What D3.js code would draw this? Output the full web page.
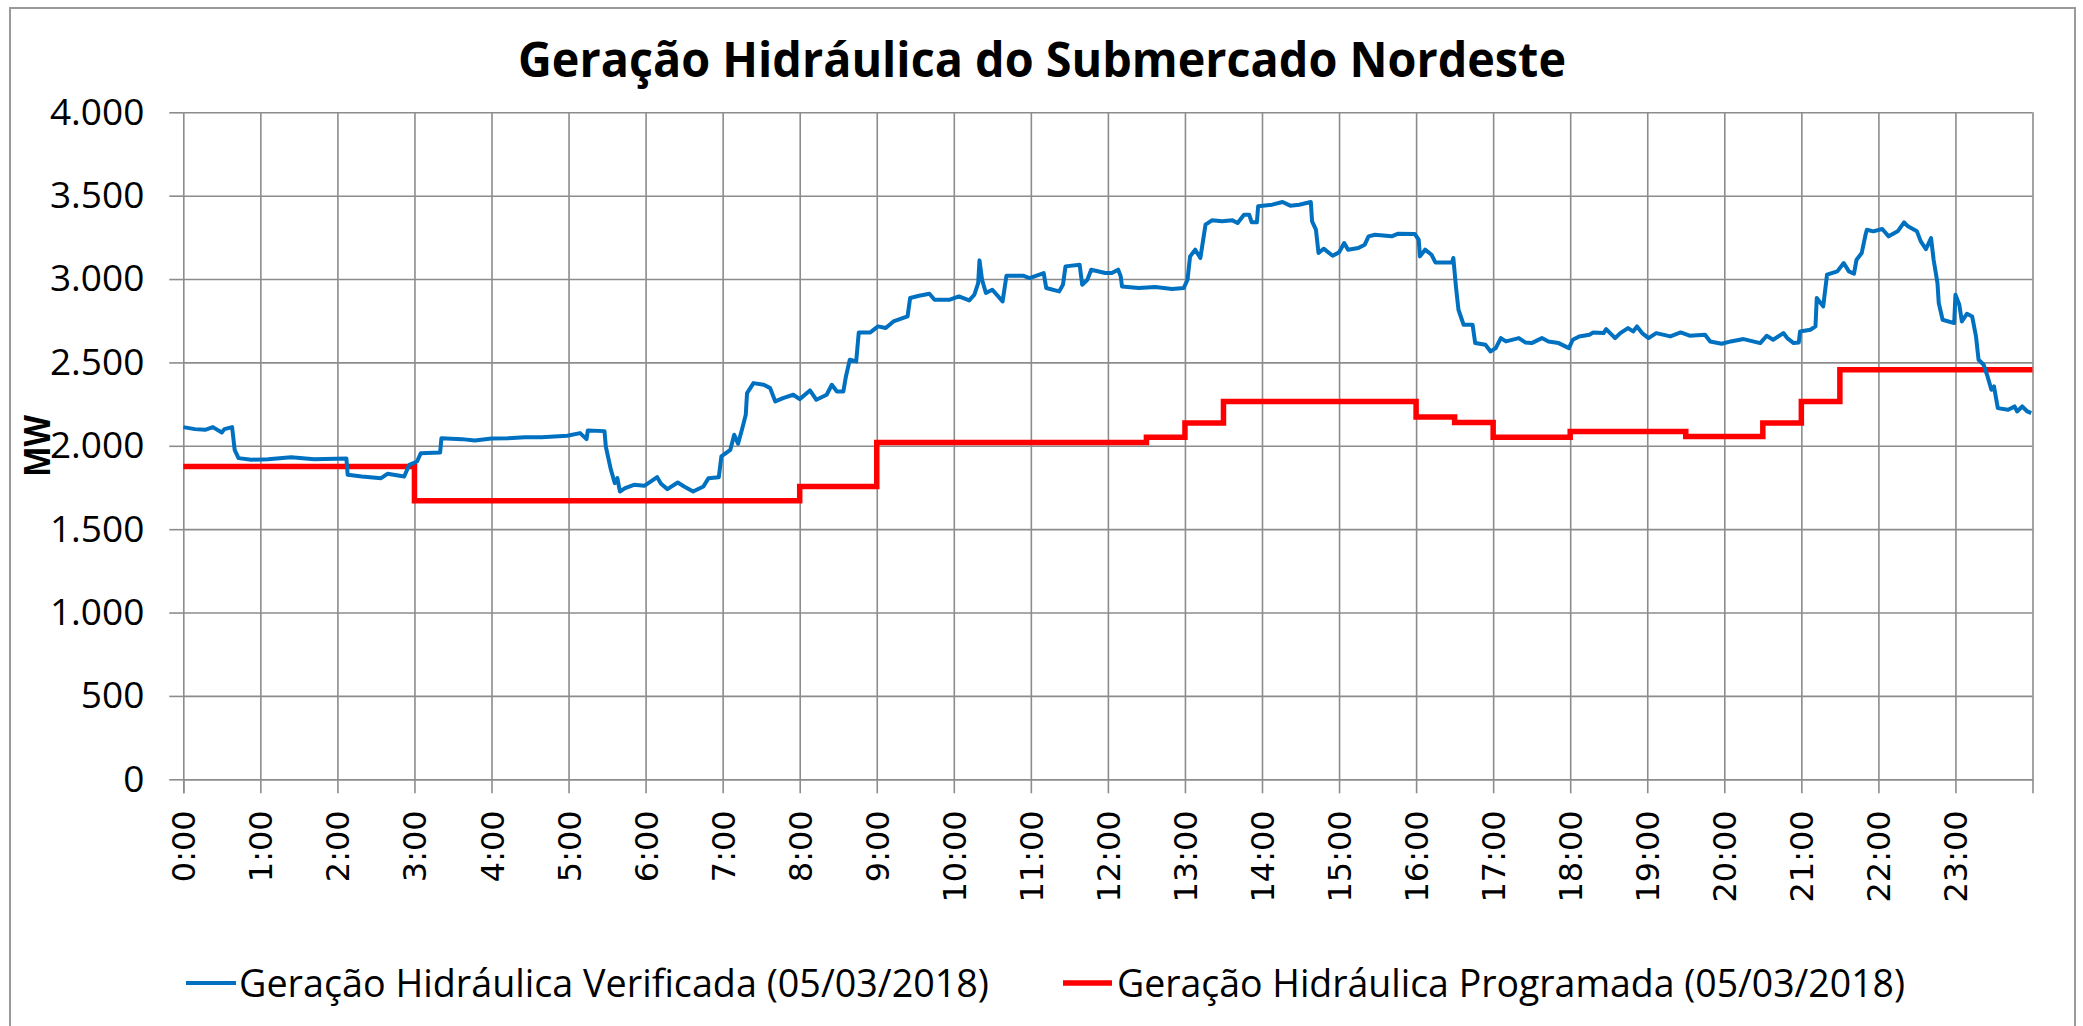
<!DOCTYPE html>
<html><head><meta charset="utf-8">
<script src="https://cdn.jsdelivr.net/npm/d3@7"></script>
<style>body{margin:0;background:#fff}</style>
</head><body><svg id="c" width="2083" height="1026"></svg>
<script>
const titulo = "Geração Hidráulica do Submercado Nordeste";
const rotuloY = "MW";
const nomesSeries = ["Geração Hidráulica Verificada (05/03/2018)", "Geração Hidráulica Programada (05/03/2018)"];
const coresSeries = ["#0070C0", "#FF0000"];
const ticksY = [0, 500, 1000, 1500, 2000, 2500, 3000, 3500, 4000];
const ticksHoras = ["0:00","1:00","2:00","3:00","4:00","5:00","6:00","7:00","8:00","9:00","10:00","11:00","12:00","13:00","14:00","15:00","16:00","17:00","18:00","19:00","20:00","21:00","22:00","23:00"];

// Geração verificada: minuto do dia e MW
const minutosVerificada = [0,9,17,23,30,32,38,40,43,53,66,84,102,127,128,139,154,159,172,176,182,185,200,201,217,227,240,253,266,279,299,309,314,315,328,329,333,336,338,340,344,351,359,369,372,377,385,390,397,405,409,417,419,426,429,432,435,438,439,444,452,457,461,467,475,480,488,493,501,505,509,514,516,519,524,526,535,541,547,553,564,566,573,581,585,597,604,612,616,619,620,622,625,630,638,641,654,659,670,672,682,685,687,698,700,704,707,718,723,728,730,731,744,757,770,779,782,784,788,792,794,796,801,809,817,821,826,830,832,836,837,848,856,862,869,878,879,882,884,888,895,900,904,907,915,920,923,928,941,946,959,962,963,967,972,975,988,989,991,993,997,1004,1006,1014,1018,1022,1026,1030,1040,1045,1050,1058,1063,1071,1079,1082,1087,1095,1098,1106,1108,1115,1119,1125,1129,1132,1136,1141,1147,1158,1166,1173,1185,1189,1198,1205,1215,1228,1233,1238,1246,1249,1254,1258,1259,1267,1271,1272,1277,1280,1288,1293,1297,1301,1303,1307,1310,1311,1316,1323,1328,1335,1340,1343,1350,1353,1357,1361,1363,1366,1367,1370,1379,1380,1383,1385,1389,1393,1396,1398,1402,1405,1408,1410,1413,1421,1426,1428,1432,1436,1439];
const valoresVerificada = [2112,2100,2096,2112,2080,2100,2112,1976,1926,1916,1920,1932,1920,1924,1826,1816,1806,1832,1816,1886,1906,1956,1960,2046,2040,2032,2044,2046,2052,2052,2060,2076,2040,2092,2088,1996,1856,1776,1806,1726,1746,1766,1760,1812,1772,1740,1780,1756,1726,1756,1806,1812,1936,1976,2066,2012,2096,2186,2316,2376,2366,2346,2266,2286,2306,2280,2332,2276,2306,2366,2326,2326,2416,2516,2506,2680,2680,2716,2706,2746,2776,2886,2900,2912,2876,2876,2896,2872,2906,2976,3112,2996,2916,2936,2866,3020,3020,3006,3036,2946,2926,2966,3076,3086,2966,2996,3056,3036,3036,3056,3016,2956,2946,2952,2940,2946,2996,3136,3176,3126,3226,3326,3352,3346,3352,3336,3386,3386,3340,3340,3436,3446,3462,3440,3446,3462,3346,3296,3156,3182,3140,3160,3216,3176,3186,3206,3256,3266,3256,3272,3270,3236,3136,3176,3146,3100,3100,3126,2956,2816,2726,2726,2616,2606,2566,2586,2646,2626,2646,2620,2616,2646,2626,2616,2586,2636,2656,2666,2680,2676,2700,2646,2676,2706,2686,2716,2676,2646,2676,2656,2680,2660,2666,2626,2612,2626,2640,2616,2660,2636,2676,2646,2616,2620,2686,2696,2716,2886,2836,3026,3046,3096,3046,3032,3116,3156,3266,3296,3286,3300,3256,3286,3340,3316,3286,3226,3180,3246,3116,2976,2856,2756,2736,2906,2846,2746,2792,2776,2656,2516,2486,2416,2336,2356,2226,2216,2236,2206,2236,2206,2196];

// Geração programada: início de cada patamar (minuto) e MW
const minutosProgramada = [0,180,480,540,750,780,810,960,990,1020,1080,1170,1230,1260,1290,1440];
const valoresProgramada = [1876,1670,1756,2020,2052,2136,2266,2172,2140,2052,2086,2056,2136,2266,2456,2456];

const plot = {left: 183.3, right: 2032.5, top: 112.3, bottom: 779.3};
const svg = d3.select("#c");
const fontCal = "'Open Sans', 'Noto Sans', sans-serif";

// chart border
svg.append("rect").attr("x", 10).attr("y", 8).attr("width", 2065).attr("height", 1030)
  .attr("fill", "#fff").attr("stroke", "#9a9a9a").attr("stroke-width", 2);

const x = d3.scaleLinear().domain([0, 1440]).range([plot.left, plot.right]);
const y = d3.scaleLinear().domain([0, 4000]).range([plot.bottom, plot.top]);
const gridColor = "#8c8c8c";

// horizontal gridlines
svg.append("g").attr("transform", `translate(${plot.left},0)`)
  .call(d3.axisLeft(y).tickValues(ticksY).tickSize(-(plot.right - plot.left)).tickFormat(""))
  .call(g => g.select(".domain").remove())
  .call(g => g.selectAll("line").attr("stroke", gridColor).attr("stroke-width", 1.6));

// vertical gridlines (hours + right edge)
const horasMin = ticksHoras.map((_, i) => i * 60);
svg.append("g").attr("transform", `translate(0,${plot.top})`)
  .call(d3.axisBottom(x).tickValues(horasMin.concat([1440])).tickSize(plot.bottom - plot.top).tickFormat(""))
  .call(g => g.select(".domain").remove())
  .call(g => g.selectAll("line").attr("stroke", gridColor).attr("stroke-width", 1.6));

// y axis ticks and labels
const loc = d3.formatLocale({decimal: ",", thousands: ".", grouping: [3], currency: ["", ""]});
const fmt = loc.format(",");
svg.append("g").attr("transform", `translate(${plot.left},0)`)
  .call(d3.axisLeft(y).tickValues(ticksY).tickSize(14).tickPadding(25).tickFormat(fmt))
  .call(g => g.select(".domain").remove())
  .call(g => g.selectAll("line").attr("stroke", gridColor).attr("stroke-width", 1.6))
  .call(g => g.selectAll("text").attr("fill", "#000").style("font-family", fontCal).style("font-size", "37px"));

// x axis ticks and labels
svg.append("g").attr("transform", `translate(0,${plot.bottom})`)
  .call(d3.axisBottom(x).tickValues(horasMin).tickSize(14).tickFormat((d, i) => ticksHoras[i]))
  .call(g => g.select(".domain").attr("stroke", gridColor).attr("stroke-width", 1.6))
  .call(g => g.selectAll("line").attr("stroke", gridColor).attr("stroke-width", 1.6))
  .call(g => g.selectAll("text").attr("fill", "#000")
    .style("font-family", "'DejaVu Sans', sans-serif").style("font-size", "32px")
    .attr("transform", "rotate(-90)").attr("x", -31).attr("y", 0).attr("dy", "0.36em")
    .style("text-anchor", "end"));

// series
const dadosVer = minutosVerificada.map((m, i) => [m, valoresVerificada[i]]);
const dadosProg = minutosProgramada.map((m, i) => [m, valoresProgramada[i]]);
svg.append("path").datum(dadosProg).attr("fill", "none").attr("stroke", coresSeries[1])
  .attr("stroke-width", 5.5)
  .attr("d", d3.line().x(d => x(d[0])).y(d => y(d[1])).curve(d3.curveStepAfter));
svg.append("path").datum(dadosVer).attr("fill", "none").attr("stroke", coresSeries[0])
  .attr("stroke-width", 4).attr("stroke-linejoin", "round")
  .attr("d", d3.line().x(d => x(d[0])).y(d => y(d[1])));

// title
svg.append("text").attr("x", 1042).attr("y", 77).attr("text-anchor", "middle")
  .style("font-family", fontCal).style("font-weight", "bold").style("font-size", "49px")
  .attr("textLength", 1048).attr("lengthAdjust", "spacingAndGlyphs").attr("fill", "#000").text(titulo);

// y title
svg.append("text").attr("transform", "translate(50,446) rotate(-90)").attr("text-anchor", "middle")
  .style("font-family", fontCal).style("font-weight", "bold").style("font-size", "36px")
  .attr("textLength", 62).attr("lengthAdjust", "spacingAndGlyphs").attr("fill", "#000").text(rotuloY);

// legend
const legenda = [
  {x0: 186, x1: 236, tx: 239, len: 750, w: 4},
  {x0: 1063, x1: 1112, tx: 1117, len: 788, w: 5.5}
];
legenda.forEach((l, i) => {
  svg.append("line").attr("x1", l.x0).attr("x2", l.x1).attr("y1", 983).attr("y2", 983)
    .attr("stroke", coresSeries[i]).attr("stroke-width", l.w);
  svg.append("text").attr("x", l.tx).attr("y", 997)
    .style("font-family", fontCal).style("font-size", "38px")
    .attr("textLength", l.len).attr("lengthAdjust", "spacingAndGlyphs").attr("fill", "#000").text(nomesSeries[i]);
});
</script></body></html>
